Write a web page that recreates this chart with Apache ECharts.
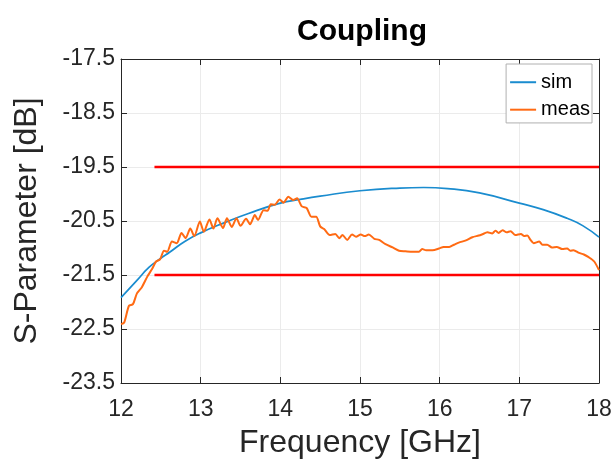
<style>body { margin: 0; }</style>
<script src="https://cdn.jsdelivr.net/npm/echarts@6.0.0/dist/echarts.min.js"></script>

<div id="chart" style="width: 616px; height: 463px;"></div>

<script>
  // simulated coupling
  const simFreq = [12, 12.2, 12.35, 12.5, 12.61, 12.8, 13, 13.3, 13.6, 14, 14.25, 14.5,
    15, 15.5, 15.8, 16.1, 16.5, 17, 17.3, 17.6, 17.8, 18];
  const simVal = [-21.92, -21.6, -21.36, -21.19, -21.08, -20.88, -20.72, -20.53, -20.36, -20.17, -20.1, -20.04,
    -19.94, -19.89, -19.88, -19.9, -19.98, -20.17, -20.29, -20.45, -20.59, -20.8];

  // measured coupling
  const measFreq = [12.0, 12.04, 12.1, 12.15, 12.2, 12.26, 12.33, 12.39, 12.44, 12.49, 12.54, 12.58,
    12.64, 12.7, 12.76, 12.81, 12.87, 12.92, 12.99, 13.04, 13.11, 13.16, 13.21, 13.28,
    13.33, 13.39, 13.45, 13.5, 13.57, 13.62, 13.68, 13.72, 13.79, 13.84, 13.88, 13.93,
    13.99, 14.04, 14.1, 14.16, 14.21, 14.27, 14.33, 14.39, 14.45, 14.5, 14.55, 14.62,
    14.69, 14.74, 14.78, 14.84, 14.9, 14.95, 15.01, 15.06, 15.11, 15.18, 15.24, 15.32,
    15.41, 15.49, 15.57, 15.66, 15.74, 15.78, 15.83, 15.91, 15.99, 16.05, 16.12, 16.18,
    16.24, 16.33, 16.41, 16.49, 16.53, 16.6, 16.66, 16.7, 16.74, 16.79, 16.84, 16.89,
    16.95, 17.02, 17.06, 17.1, 17.14, 17.18, 17.25, 17.29, 17.35, 17.41, 17.47, 17.54,
    17.6, 17.64, 17.68, 17.75, 17.81, 17.87, 17.94, 18.0];
  const measVal = [-22.41, -22.38, -22.07, -22.04, -21.84, -21.73, -21.53, -21.39, -21.25, -21.21, -21.05, -21.07,
    -20.88, -20.91, -20.72, -20.82, -20.64, -20.78, -20.51, -20.7, -20.47, -20.64, -20.45, -20.63,
    -20.45, -20.61, -20.45, -20.59, -20.46, -20.56, -20.39, -20.48, -20.3, -20.31, -20.19, -20.2,
    -20.1, -20.16, -20.05, -20.11, -20.08, -20.23, -20.26, -20.42, -20.42, -20.6, -20.65, -20.76,
    -20.74, -20.82, -20.76, -20.85, -20.75, -20.79, -20.75, -20.78, -20.75, -20.83, -20.85, -20.93,
    -20.99, -21.05, -21.06, -21.07, -21.07, -21.02, -21.04, -21.04, -21.01, -20.98, -20.98, -20.94,
    -20.9, -20.86, -20.8, -20.77, -20.75, -20.71, -20.73, -20.68, -20.72, -20.67, -20.71, -20.69,
    -20.76, -20.74, -20.78, -20.77, -20.85, -20.91, -20.88, -20.94, -20.94, -20.99, -20.98, -21.02,
    -21.01, -21.05, -21.04, -21.09, -21.12, -21.17, -21.25, -21.41];

  // spec limits
  const limitFreq = [12.42, 18];
  const upperLimit = -19.5;
  const lowerLimit = -21.5;

  const xTicks = [12, 18, 1];
  const yTicks = [-23.5, -17.5, 1];

  const ready = (fn) => {
    if (document.readyState !== "loading") {
      fn();
    } else {
      document.addEventListener("DOMContentLoaded", fn);
    }
  };

  ready(() => {
    const chart = echarts.init(document.getElementById("chart"), null, { renderer: "canvas" });
    const font = "'Liberation Sans', Arial, sans-serif";
    const ink = "#262626";

    const pairs = (xs, ys) => xs.map((x, i) => [x, ys[i]]);
    const flat = (v) => limitFreq.map((x) => [x, v]);

    const baseAxis = (ticks) => ({
      type: "value",
      min: ticks[0],
      max: ticks[1],
      interval: ticks[2],
      axisLine: { show: true, onZero: false, lineStyle: { color: ink, width: 1 } },
      axisTick: { show: true, inside: true, length: 6, lineStyle: { color: ink } }
    });

    const option = {
      animation: false,
      backgroundColor: "#fff",
      title: {
        text: "Coupling",
        left: 357,
        textAlign: "center",
        top: 1,
        textStyle: { fontFamily: font, fontSize: 30, fontWeight: "bold", color: "#000" }
      },
      legend: {
        data: [
          { name: "sim", icon: "rect" },
          { name: "meas", icon: "rect" }
        ],
        orient: "vertical",
        right: 24,
        top: 64,
        itemWidth: 26,
        itemHeight: 2,
        itemGap: -7,
        padding: [1, 2, -4, 4],
        backgroundColor: "#fff",
        borderColor: "#b0b0b0",
        borderWidth: 1,
        borderRadius: 0,
        textStyle: { fontFamily: font, fontSize: 20, lineHeight: 20, color: "#000" }
      },
      grid: { left: 121, right: 17, top: 59, bottom: 80, outerBoundsMode: "none" },
      xAxis: [
        {
          ...baseAxis(xTicks),
          name: "Frequency [GHz]",
          nameLocation: "middle",
          nameGap: 33,
          nameMoveOverlap: false,
          nameTextStyle: { fontFamily: font, fontSize: 32, color: ink },
          axisLabel: { fontFamily: font, fontSize: 23, color: ink, margin: 7 },
          splitLine: { show: true, lineStyle: { color: "#ebebeb", width: 1 } }
        },
        {
          ...baseAxis(xTicks),
          position: "top",
          axisLabel: { show: false },
          splitLine: { show: false }
        }
      ],
      yAxis: [
        {
          ...baseAxis(yTicks),
          name: "S-Parameter [dB]",
          nameLocation: "middle",
          nameGap: 66,
          nameMoveOverlap: false,
          nameTextStyle: { fontFamily: font, fontSize: 32, color: ink },
          axisLabel: { fontFamily: font, fontSize: 23, color: ink, margin: 6 },
          splitLine: { show: true, lineStyle: { color: "#ebebeb", width: 1 } }
        },
        {
          ...baseAxis(yTicks),
          position: "right",
          axisLabel: { show: false },
          splitLine: { show: false }
        }
      ],
      series: [
        {
          name: "sim",
          type: "line",
          data: pairs(simFreq, simVal),
          smooth: true,
          symbol: "none",
          lineStyle: { color: "#1a8ccf", width: 1.7 },
          itemStyle: { color: "#1a8ccf" },
          z: 3
        },
        {
          name: "meas",
          type: "line",
          data: pairs(measFreq, measVal),
          smooth: 0.25,
          symbol: "none",
          lineStyle: { color: "#ff6a13", width: 2 },
          itemStyle: { color: "#ff6a13" },
          z: 4
        },
        {
          name: "upper",
          type: "line",
          data: flat(upperLimit),
          symbol: "none",
          lineStyle: { color: "#ff0000", width: 2.5 },
          z: 2
        },
        {
          name: "lower",
          type: "line",
          data: flat(lowerLimit),
          symbol: "none",
          lineStyle: { color: "#ff0000", width: 2.5 },
          z: 2
        }
      ]
    };
    chart.setOption(option);
  });
</script>
